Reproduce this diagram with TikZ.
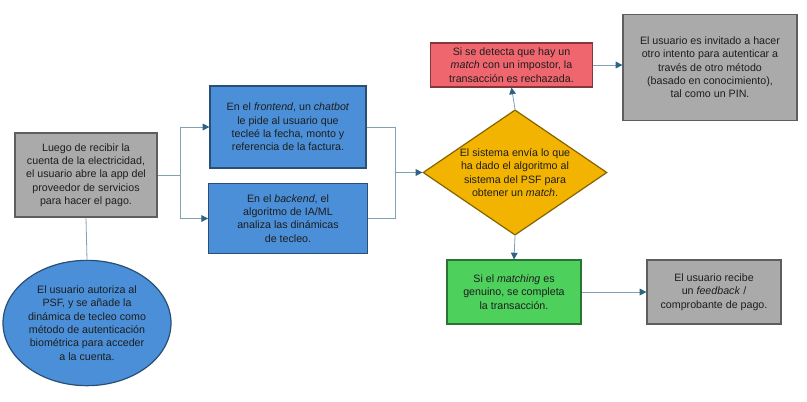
\documentclass[tikz,border=0pt]{standalone}
\usepackage{fontspec}
\setmainfont{Liberation Sans}
\usetikzlibrary{arrows.meta,shapes.geometric,calc}

\definecolor{cajagris}{RGB}{170,170,170}
\definecolor{cajaazul}{RGB}{74,143,216}
\definecolor{cajaroja}{RGB}{240,102,110}
\definecolor{cajaverde}{RGB}{78,208,92}
\definecolor{rombo}{RGB}{242,180,0}
\definecolor{linea}{RGB}{128,160,180}
\definecolor{punta}{RGB}{45,100,132}
\definecolor{texto}{RGB}{30,30,30}

\tikzset{
  caja/.style={draw=#1!55!black, line width=0.9pt, inner sep=0pt, align=center,
    text=texto, font=\fontsize{8}{10}\selectfont},
  gris/.style={caja=cajagris, fill=cajagris},
  azul/.style={caja=cajaazul, fill=cajaazul},
  roja/.style={caja=cajaroja, fill=cajaroja},
  verde/.style={caja=cajaverde, fill=cajaverde},
  linea/.style={draw=linea, line width=0.6pt},
  flecha/.style={linea, -{Triangle[length=5pt,width=5pt,fill=punta,color=punta]}}
}

\begin{document}
\begin{tikzpicture}[x=0.75pt,y=-0.75pt]
  \useasboundingbox (0,0) rectangle (807,401);

  % inicio
  \node[gris, minimum width=106.5pt, minimum height=63pt] (inicio) at (86,175)
    {Luego de recibir la\\cuenta de la electricidad,\\el usuario abre la app del\\proveedor de servicios\\para hacer el pago.};
  \node[ellipse, caja=cajaazul, fill=cajaazul, minimum width=126pt, minimum height=94pt] (autoriza) at (87,323)
    {El usuario autoriza al\\PSF, y se añade la\\dinámica de tecleo como\\método de autenticación\\biométrica para acceder\\a la cuenta.};

  % frontend y backend
  \node[azul, minimum width=117pt, minimum height=61.5pt] (front) at (288,127)
    {En el \textit{frontend}, un \textit{chatbot}\\le pide al usuario que\\tecleé la fecha, monto y\\referencia de la factura.};
  \node[azul, minimum width=119pt, minimum height=52pt] (back) at (288,218.5)
    {En el \textit{backend}, el\\algoritmo de IA/ML\\analiza las dinámicas\\de tecleo.};

  % decisión
  \node[diamond, caja=rombo, fill=rombo, aspect=1.47, minimum width=138pt, minimum height=94pt] (sistema) at (515,172.5)
    {El sistema envía lo que\\ha dado el algoritmo al\\sistema del PSF para\\obtener un \textit{match}.};

  % resultados
  \node[roja, minimum width=122pt, minimum height=33pt] (rechazo) at (511.5,65)
    {Si se detecta que hay un\\\textit{match} con un impostor, la\\transacción es rechazada.};
  \node[gris, minimum width=130.5pt, minimum height=79pt] (otro) at (710,67.5)
    {El usuario es invitado a hacer\\otro intento para autenticar a\\través de otro método\\(basado en conocimiento),\\tal como un PIN.};
  \node[verde, minimum width=100.5pt, minimum height=48pt] (genuino) at (514,292)
    {Si el \textit{matching} es\\genuino, se completa\\la transacción.};
  \node[gris, minimum width=100.5pt, minimum height=48pt] (recibo) at (714,292)
    {El usuario recibe\\un \textit{feedback} /\\comprobante de pago.};

  % conectores
  \coordinate (divide) at ($(inicio.east)+(23,0)$);
  \coordinate (une) at (395,172.5);
  \draw[linea] (inicio.south) -- (autoriza.north);
  \draw[linea] (inicio.east) -- (divide);
  \draw[flecha] (divide) |- (front.west);
  \draw[flecha] (divide) |- (back.west);
  \draw[linea] (front.east) -| (une);
  \draw[linea] (back.east) -| (une);
  \draw[flecha] (une) -- (sistema.west);
  \draw[flecha] (sistema.north) -- (rechazo.south);
  \draw[flecha] (sistema.south) -- (genuino.north);
  \draw[flecha] (rechazo.east) -- (otro.west |- rechazo.east);
  \draw[flecha] (genuino.east) -- (recibo.west);
\end{tikzpicture}
\end{document}
